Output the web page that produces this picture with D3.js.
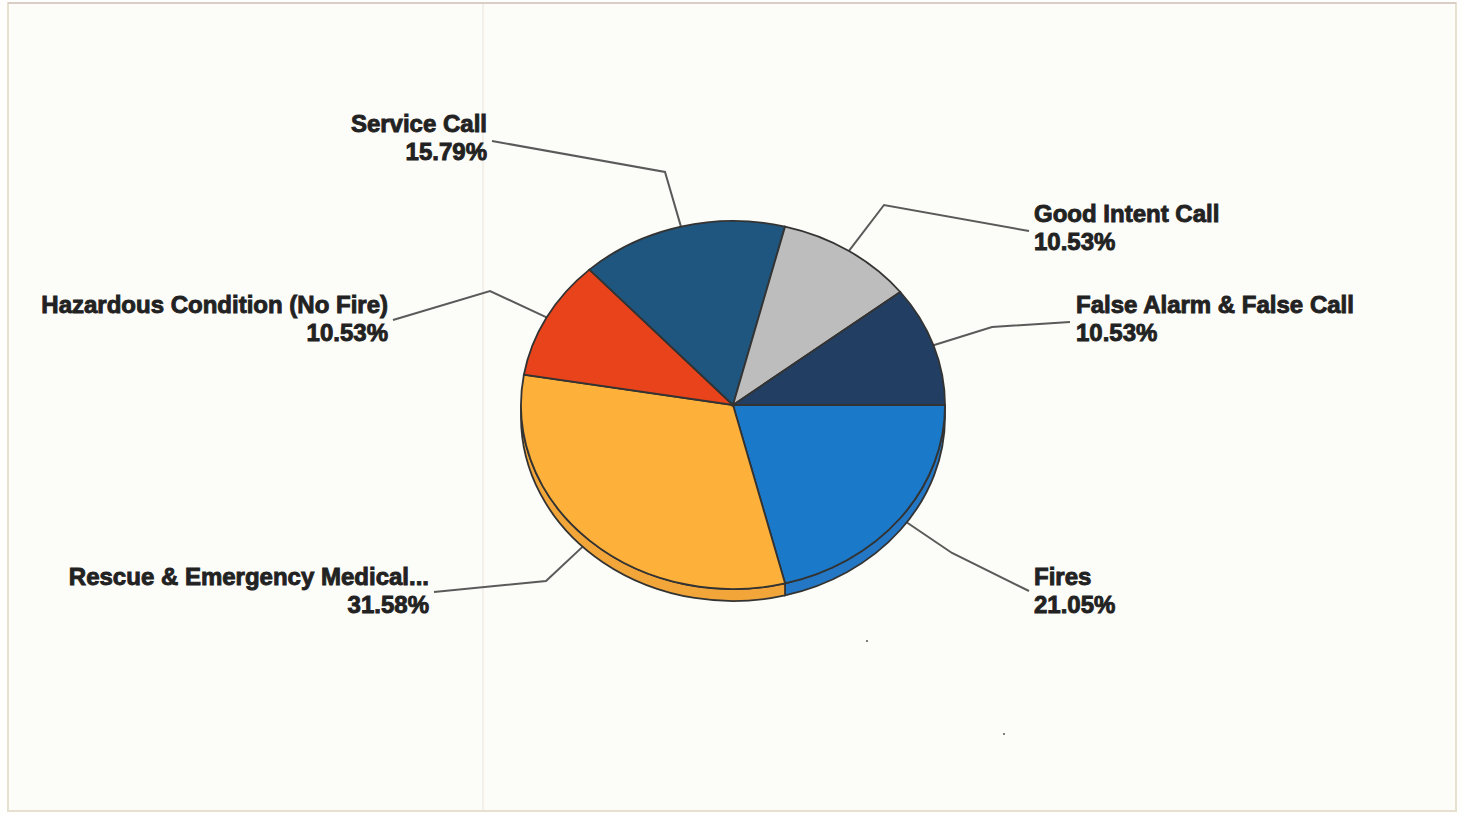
<!DOCTYPE html>
<html>
<head>
<meta charset="utf-8">
<script src="https://cdn.jsdelivr.net/npm/d3@7"></script>
<style>
  html, body { margin: 0; padding: 0; background: #fefefc; }
  svg { display: block; }
  .label { font-family: "Liberation Sans", Arial, sans-serif; font-weight: bold; font-size: 24px; fill: #222; stroke: #222; stroke-width: 0.9px; }
  .leader { fill: none; stroke: #5a5a5a; stroke-width: 2px; }
  .slice { stroke: #333; stroke-width: 1.8px; vector-effect: non-scaling-stroke; }
</style>
</head>
<body>
<svg id="chart" width="1462" height="814"></svg>
<script>
// incident counts, clockwise from 3 o'clock
const categories = ['Fires', 'Rescue & Emergency Medical...', 'Hazardous Condition (No Fire)', 'Service Call', 'Good Intent Call', 'False Alarm & False Call'];
const counts = [4, 6, 2, 3, 2, 2];
const percentLabels = ['21.05%', '31.58%', '10.53%', '15.79%', '10.53%', '10.53%'];
const topColors = ['#1b79c9', '#fdb13b', '#e8431a', '#1f567f', '#bdbdbd', '#223f63'];
const sideColors = ['#2477c4', '#f2a63a', '#e8431a', '#1f567f', '#bdbdbd', '#223f63'];

// elbow and end of each leader line, then the label anchor
const leaderElbows = [[952, 553], [546, 581], [490, 291], [665, 172], [884, 205], [992, 327]];
const leaderEnds = [[1029, 591], [434, 592], [393, 320], [492, 141], [1029, 231], [1070, 322]];
const labelPos = [[1034, 585, 'start'], [429, 585, 'end'], [388, 313, 'end'], [487, 132, 'end'], [1034, 222, 'start'], [1076, 313, 'start']];

const cx = 733, cy = 405, rx = 212, ry = 184, depth = 12;

const svg = d3.select('#chart');

// page scan: paper and its edges
svg.append('rect').attr('x', 8).attr('y', 3).attr('width', 1448).attr('height', 808)
  .attr('fill', '#fcfcf8').attr('stroke', '#e6e0d0').attr('stroke-width', 2);
svg.append('line').attr('x1', 8).attr('x2', 1456).attr('y1', 3).attr('y2', 3)
  .attr('stroke', '#d9cdc6').attr('stroke-width', 2);
svg.append('line').attr('x1', 483).attr('x2', 483).attr('y1', 4).attr('y2', 810)
  .attr('stroke', '#f0ede5').attr('stroke-width', 1.5);
svg.append('circle').attr('cx', 867).attr('cy', 641).attr('r', 1).attr('fill', '#555');
svg.append('circle').attr('cx', 1004).attr('cy', 734).attr('r', 1).attr('fill', '#555');

const pie = d3.pie().value(d => d).sort(null).startAngle(Math.PI / 2).endAngle(Math.PI * 2.5);
const slices = pie(counts);

const arc = d3.arc().innerRadius(0).outerRadius(rx);

// point on the rim for a given pie angle
function rim(a) {
  return [cx + rx * Math.sin(a), cy - ry * Math.cos(a)];
}

var line = d3.line();
svg.selectAll('.leader')
  .data(slices)
  .enter()
  .append('path')
  .attr('class', 'leader')
  .attr('d', function (d, i) {
    return line([rim((d.startAngle + d.endAngle) / 2), leaderElbows[i], leaderEnds[i]]);
  });

var pieGroup = svg.append('g')
  .attr('transform', 'translate(' + cx + ',' + cy + ') scale(1,' + ry / rx + ')');

// side wall, only the front half of the rim shows
var dy = depth * rx / ry;
pieGroup.selectAll('.side')
  .data(slices.filter(d => d.startAngle < Math.PI * 1.5))
  .enter()
  .append('path')
  .attr('class', 'slice side')
  .attr('fill', d => sideColors[d.index])
  .attr('d', function (d) {
    var a0 = d.startAngle - Math.PI / 2;
    var a1 = Math.min(d.endAngle - Math.PI / 2, Math.PI);
    var p = d3.path();
    p.moveTo(rx * Math.cos(a0), rx * Math.sin(a0));
    p.arc(0, 0, rx, a0, a1);
    p.lineTo(rx * Math.cos(a1), dy + rx * Math.sin(a1));
    p.arc(0, dy, rx, a1, a0, true);
    p.closePath();
    return p.toString();
  });

pieGroup.selectAll('.top')
  .data(slices)
  .enter()
  .append('path')
  .attr('class', 'slice top')
  .attr('fill', d => topColors[d.index])
  .attr('d', arc);

var labels = svg.selectAll('.label')
  .data(categories)
  .enter()
  .append('text')
  .attr('class', 'label')
  .attr('text-anchor', (d, i) => labelPos[i][2])
  .attr('y', (d, i) => labelPos[i][1]);

labels.append('tspan')
  .attr('x', (d, i) => labelPos[i][0])
  .text(d => d);
labels.append('tspan')
  .attr('x', (d, i) => labelPos[i][0])
  .attr('dy', 28)
  .text((d, i) => percentLabels[i]);
</script>
</body>
</html>
